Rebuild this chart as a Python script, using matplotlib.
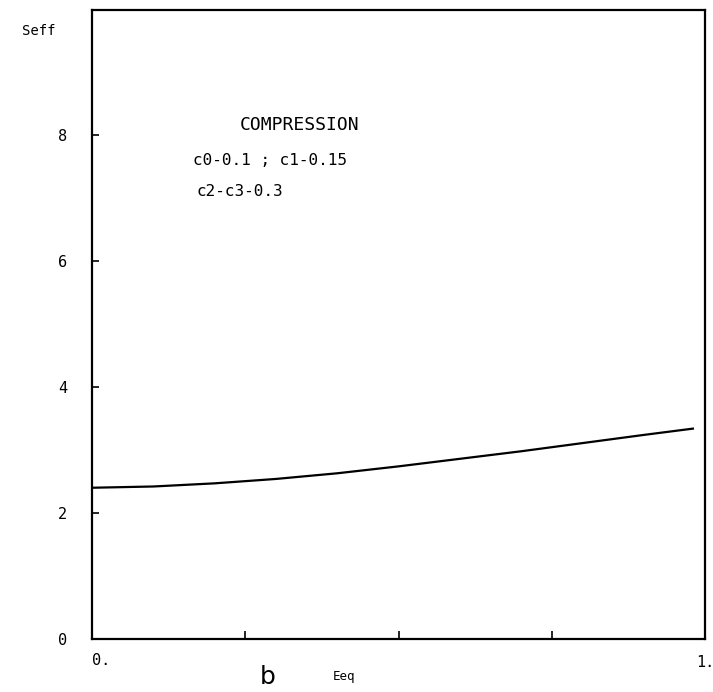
import numpy as np
import matplotlib.pyplot as plt

# curve
eeq = [0.0, 0.1, 0.2, 0.3, 0.4, 0.5, 0.6, 0.7, 0.8, 0.9, 0.98]
seff = [2.40, 2.42, 2.47, 2.54, 2.63, 2.74, 2.86, 2.98, 3.11, 3.24, 3.34]

y_ticks = [0, 2, 4, 6, 8]
x_minor = [0.25, 0.5, 0.75]
notes = ['COMPRESSION', 'c0-0.1 ; c1-0.15', 'c2-c3-0.3']

mono = 'DejaVu Sans Mono'

fig = plt.figure(figsize=(7.13, 6.92), dpi=100)
ax = fig.add_axes([0.129, 0.077, 0.860, 0.909])

ax.plot(eeq, seff, color='black', linewidth=1.6)
ax.set_xlim(0, 1)
ax.set_ylim(0, 10)

for s in ax.spines.values():
    s.set_linewidth(1.6)

ax.set_yticks(y_ticks)
ax.set_yticklabels([str(v) for v in y_ticks], fontfamily=mono, fontsize=11)
ax.set_xticks(x_minor)
ax.set_xticklabels([])
ax.tick_params(axis='both', direction='in', length=5, width=1.2, pad=18)
ax.tick_params(axis='x', length=6)

# end labels of the x axis
ax.text(0.0, -0.022, '0.', transform=ax.transAxes, ha='left', va='top',
        fontfamily=mono, fontsize=11)
ax.text(1.0, -0.026, '1.', transform=ax.transAxes, ha='center', va='top',
        fontfamily=mono, fontsize=11)

fig.text(0.031, 0.955, 'Seff', ha='left', va='center', fontfamily=mono, fontsize=10)
fig.text(0.467, 0.023, 'Eeq', ha='left', va='center', fontfamily=mono, fontsize=9)
fig.text(0.375, 0.022, 'b', ha='center', va='center', fontsize=18)

ax.text(0.241, 0.816, notes[0], transform=ax.transAxes, ha='left', va='center',
        fontfamily=mono, fontsize=13)
ax.text(0.165, 0.760, notes[1], transform=ax.transAxes, ha='left', va='center',
        fontfamily=mono, fontsize=11.5)
ax.text(0.170, 0.711, notes[2], transform=ax.transAxes, ha='left', va='center',
        fontfamily=mono, fontsize=11.5)

fig.savefig('out.png', dpi=100, facecolor='white')
